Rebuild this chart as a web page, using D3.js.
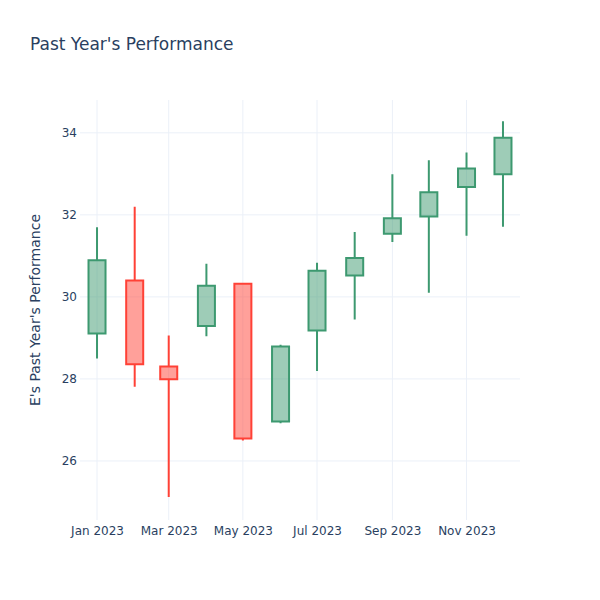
<!DOCTYPE html>
<html>
<head>
<meta charset="utf-8">
<script src="https://cdn.jsdelivr.net/npm/d3@7"></script>
<style>
  html, body { margin: 0; padding: 0; background: #fff; }
  svg { display: block; font-family: "DejaVu Sans", Verdana, sans-serif; }
</style>
</head>
<body>
<svg id="chart" width="600" height="600"></svg>
<script>
const dates = ["2023-01-01","2023-02-01","2023-03-01","2023-04-01","2023-05-01","2023-06-01",
               "2023-07-01","2023-08-01","2023-09-01","2023-10-01","2023-11-01","2023-12-01"];
const openVals  = [29.11, 30.40, 28.30, 29.29, 30.32, 26.96, 29.18, 30.52, 31.54, 31.96, 32.68, 32.99];
const highVals  = [31.70, 32.20, 29.06, 30.81, 30.34, 28.83, 30.83, 31.58, 32.99, 33.33, 33.52, 34.28];
const lowVals   = [28.50, 27.81, 25.12, 29.04, 26.50, 26.92, 28.19, 29.45, 31.34, 30.10, 31.49, 31.71];
const closeVals = [30.89, 28.36, 27.99, 30.27, 26.55, 28.79, 30.64, 30.95, 31.92, 32.55, 33.13, 33.88];
const yTicks = [26, 28, 30, 32, 34];
const xTickDates = ["2023-01-01","2023-03-01","2023-05-01","2023-07-01","2023-09-01","2023-11-01"];
const titleText = "Past Year's Performance";
const yTitle = "E's Past Year's Performance";

const parse = d3.utcParse("%Y-%m-%d");
const data = dates.map((d, i) => ({
  date: parse(d), open: openVals[i], high: highVals[i], low: lowVals[i], close: closeVals[i]
}));

const W = 600, H = 600;
const m = {l: 80, r: 80, t: 100, b: 80};
const svg = d3.select("#chart");

const x = d3.scaleUtc()
  .domain([parse("2022-12-18"), parse("2023-12-15")])
  .range([m.l, W - m.r]);
const y = d3.scaleLinear()
  .domain([24.56, 34.80])
  .range([H - m.b, m.t]);

const gridColor = "#EBF0F8";
const textColor = "#2a3f5f";

// gridlines
svg.append("g").selectAll("line").data(yTicks).join("line")
  .attr("x1", m.l).attr("x2", W - m.r)
  .attr("y1", d => y(d)).attr("y2", d => y(d))
  .attr("stroke", gridColor).attr("stroke-width", 1);
svg.append("g").selectAll("line").data(xTickDates.map(parse)).join("line")
  .attr("x1", d => x(d)).attr("x2", d => x(d))
  .attr("y1", m.t).attr("y2", H - m.b)
  .attr("stroke", gridColor).attr("stroke-width", 1);

// axes (labels only)
const yAxis = d3.axisLeft(y).tickValues(yTicks).tickSize(0).tickPadding(3);
const gy = svg.append("g").attr("transform", `translate(${m.l},0)`).call(yAxis);
gy.select(".domain").remove();
gy.selectAll("text").attr("fill", textColor).style("font-size", "12px")
  .style("font-family", '"DejaVu Sans", Verdana, sans-serif');

const xAxis = d3.axisBottom(x).tickValues(xTickDates.map(parse))
  .tickFormat(d3.utcFormat("%b %Y")).tickSize(0).tickPadding(6);
const gx = svg.append("g").attr("transform", `translate(0,${H - m.b})`).call(xAxis);
gx.select(".domain").remove();
gx.selectAll("text").attr("fill", textColor).style("font-size", "12px")
  .style("font-family", '"DejaVu Sans", Verdana, sans-serif');

// candles
let minGap = Infinity;
for (let i = 1; i < data.length; i++) minGap = Math.min(minGap, x(data[i].date) - x(data[i-1].date));
const hw = minGap * 0.25;

const inc = {line: "#3D9970", fill: "rgba(61,153,112,0.5)"};
const dec = {line: "#FF4136", fill: "rgba(255,65,54,0.5)"};

const g = svg.append("g");
data.forEach(d => {
  const c = d.close >= d.open ? inc : dec;
  const cx = x(d.date);
  const top = y(Math.max(d.open, d.close));
  const bot = y(Math.min(d.open, d.close));
  const path = `M${cx - hw},${bot}H${cx + hw}V${top}H${cx - hw}Z` +
               `M${cx},${bot}V${y(d.low)}M${cx},${top}V${y(d.high)}`;
  g.append("path").attr("d", path)
    .attr("fill", c.fill).attr("stroke", c.line).attr("stroke-width", 2);
});

// title
svg.append("text").attr("x", 30).attr("y", 50)
  .attr("fill", textColor).style("font-size", "17px")
  .text(titleText);

// y title
svg.append("text")
  .attr("transform", `translate(40,${(m.t + H - m.b) / 2}) rotate(-90)`)
  .attr("text-anchor", "middle")
  .attr("fill", textColor).style("font-size", "14px")
  .text(yTitle);
</script>
</body>
</html>
